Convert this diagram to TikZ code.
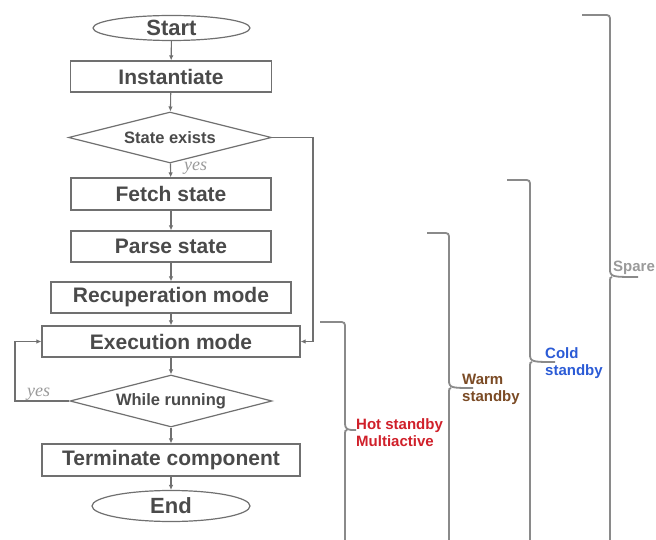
\documentclass[tikz,border=0pt]{standalone}
\usepackage{fontspec}
\setmainfont{Liberation Sans}
\newfontfamily\yesfont{Liberation Serif}
\usetikzlibrary{shapes.geometric,arrows.meta}
\definecolor{linegray}{HTML}{707070}
\definecolor{txtgray}{HTML}{4A4A4A}
\definecolor{bracegray}{HTML}{8A8A8A}
\definecolor{hotred}{HTML}{D0202A}
\definecolor{warmbrown}{HTML}{7B4B25}
\definecolor{coldblue}{HTML}{2B5BD6}
\definecolor{sparegray}{HTML}{9A9A9A}
\tikzset{
  box/.style={draw=linegray, line width=1.2pt, rectangle, inner sep=0pt, text=txtgray,
    font=\bfseries\fontsize{21}{24}\selectfont},
  term/.style={draw=linegray, line width=1.2pt, ellipse, inner sep=0pt, text=txtgray,
    font=\bfseries\fontsize{22}{24}\selectfont},
  decision/.style={draw=linegray, line width=1.2pt, diamond, inner sep=0pt, shape aspect=4,
    text=txtgray, font=\bfseries\fontsize{16.5}{18}\selectfont},
  arr/.style={draw=linegray, line width=1.1pt, -{Latex[length=5pt,width=4.5pt]}},
  yeslbl/.style={text=sparegray, font=\yesfont\itshape\fontsize{18}{20}\selectfont, inner sep=0pt},
  bracepath/.style={draw=bracegray, line width=1.8pt},
  sidelbl/.style={font=\bfseries\fontsize{15}{17}\selectfont, align=left, inner sep=0pt, anchor=west}
}
\begin{document}
\begin{tikzpicture}[x=1pt,y=-1pt]
\useasboundingbox (0,0) rectangle (656,540);
\fill[white] (0,0) rectangle (656,540);
\clip (0,0) rectangle (656,540);

% flowchart nodes
\node[term, minimum width=157pt, minimum height=25pt] (start) at (171.5,28) {Start};
\node[box, minimum width=201pt, minimum height=31pt] (inst) at (171,76.5) {Instantiate};
\node[decision, minimum width=203pt, minimum height=51pt] (se) at (170,137.5) {State exists};
\node[box, minimum width=200pt, minimum height=32pt] (fetch) at (171,194) {Fetch state};
\node[box, minimum width=200pt, minimum height=31pt] (parse) at (171,246.5) {Parse state};
\node[box, minimum width=240pt, minimum height=31pt] (recup) at (171,297.5) {Recuperation mode};
\node[box, minimum width=258pt, minimum height=31pt] (exec) at (171,341.5) {Execution mode};
\node[decision, minimum width=202pt, minimum height=52pt] (wr) at (171,401) {While running};
\node[box, minimum width=258pt, minimum height=32pt] (term) at (171,460) {Terminate component};
\node[term, minimum width=158pt, minimum height=31pt] (end) at (171,506) {End};

% connectors
\draw[arr] (start) -- (inst);
\draw[arr] (inst) -- (se);
\draw[arr] (se) -- (fetch);
\draw[arr] (fetch) -- (parse);
\draw[arr] (parse) -- (recup);
\draw[arr] (recup) -- (exec);
\draw[arr] (exec) -- (wr);
\draw[arr] (wr) -- (term);
\draw[arr] (term) -- (end);

\coordinate (r1) at (313,137.5);
\coordinate (r2) at (313,341.5);
\draw[arr] (se.east) -- (r1) -- (r2) -- (exec.east);
\coordinate (l1) at (15,401);
\coordinate (l2) at (15,341.5);
\draw[arr] (wr.west) -- (l1) -- (l2) -- (exec.west);

\node[yeslbl, anchor=base west] (yes1) at (184,171) {yes};
\node[yeslbl, anchor=base west] (yes2) at (27,396) {yes};

% braces: (x0 = left end of top hook, x = vertical, ytop, ymid, tip end)
\newcommand{\sidebrace}[5]{%
  \draw[bracepath] (#1,#3) -- ({#2-7},#3) .. controls (#2,#3) .. ({#2},{#3+7})
    -- ({#2},{#4-8}) .. controls ({#2},{#4}) and ({#2+2},{#4}) .. ({#5},{#4})
    ({#2+2},{#4}) .. controls ({#2},{#4}) .. ({#2},{#4+8}) -- ({#2},560);}
\sidebrace{320}{345}{322}{430}{356}
\sidebrace{427}{449}{233}{388}{473}
\sidebrace{507}{530}{180}{362}{555}
\sidebrace{582}{610}{15}{277}{638}

\node[sidelbl, text=hotred] (hot) at (356,433) {Hot standby\\Multiactive};
\node[sidelbl, text=warmbrown] (warm) at (462,389) {Warm\\standby};
\node[sidelbl, text=coldblue] (cold) at (545,363) {Cold\\standby};
\node[sidelbl, text=sparegray, anchor=base west] (spare) at (613,272) {Spare};
\end{tikzpicture}
\end{document}
